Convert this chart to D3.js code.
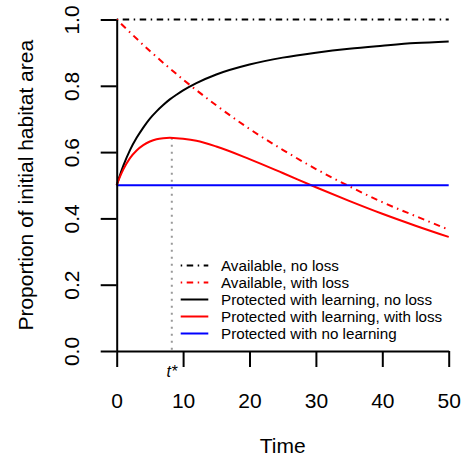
<!DOCTYPE html>
<html><head><meta charset="utf-8">
<script src="https://cdn.jsdelivr.net/npm/d3@7"></script>
<style>body{margin:0;background:#fff}svg{display:block;font-family:"Liberation Sans",Arial,sans-serif}</style>
</head><body><svg id="c" width="465" height="462"></svg>
<script>
// Data
const timeProtected = [0, 0.5, 1, 2, 3, 4, 5, 6, 7, 8, 9, 10, 12, 15, 20, 25, 30, 35, 40, 45, 50];
const protectedNoLoss = [0.5, 0.531, 0.559, 0.606, 0.643, 0.674, 0.701, 0.723, 0.742, 0.759, 0.773, 0.786, 0.808, 0.834, 0.864, 0.885, 0.900, 0.912, 0.921, 0.929, 0.934];
const protectedWithLoss = [0.5, 0.526, 0.548, 0.582, 0.605, 0.621, 0.632, 0.639, 0.642, 0.643, 0.642, 0.640, 0.634, 0.617, 0.579, 0.537, 0.494, 0.453, 0.414, 0.378, 0.344];
const timeAvail = [0, 5, 10, 15, 20, 25, 30, 35, 40, 45, 50];
const availableNoLoss = [1, 1, 1, 1, 1, 1, 1, 1, 1, 1, 1];
const availableWithLoss = [1, 0.905, 0.819, 0.741, 0.670, 0.607, 0.549, 0.497, 0.449, 0.407, 0.366];
const timeFlat = [0, 50];
const protectedNoLearning = [0.5, 0.5];
const tStar = 8.3;
const tStarValue = 0.643;
const xTicks = [0, 10, 20, 30, 40, 50];
const yTicks = [0, 0.2, 0.4, 0.6, 0.8, 1.0];
const legendLabels = ["Available, no loss", "Available, with loss", "Protected with learning, no loss", "Protected with learning, with loss", "Protected with no learning"];

const svg = d3.select("#c");
const x = d3.scaleLinear().domain([0, 50]).range([116.7, 448.7]);
const y = d3.scaleLinear().domain([0, 1]).range([351, 19.5]);
const dashDot = "1.5,4.5,6.5,4.5";

const series = [
  {t: timeAvail, v: availableNoLoss, color: "#000", dash: dashDot},
  {t: timeAvail, v: availableWithLoss, color: "#ff0000", dash: dashDot},
  {t: timeProtected, v: protectedNoLoss, color: "#000", dash: null},
  {t: timeProtected, v: protectedWithLoss, color: "#ff0000", dash: null},
  {t: timeFlat, v: protectedNoLearning, color: "#0000ff", dash: null}
];

// t* dotted line
svg.append("line").attr("x1", x(tStar)).attr("x2", x(tStar))
  .attr("y1", y(tStarValue)).attr("y2", y(0))
  .attr("stroke", "#999").attr("stroke-width", 2).attr("stroke-dasharray", "2,5");

const line = d3.line().curve(d3.curveMonotoneX);
series.forEach(s => {
  const pts = s.t.map((t, i) => [x(t), y(s.v[i])]);
  const p = svg.append("path").attr("d", line(pts)).attr("fill", "none")
    .attr("stroke", s.color).attr("stroke-width", 2);
  if (s.dash) p.attr("stroke-dasharray", s.dash);
});

// Axes
const xAxis = d3.axisBottom(x).tickValues(xTicks).tickSize(16).tickSizeOuter(0).tickPadding(0).tickFormat(d3.format("d"));
const gx = svg.append("g").attr("transform", `translate(0,${y(0)})`).call(xAxis);
gx.select(".domain").attr("stroke-width", 2);
gx.selectAll(".tick line").attr("stroke-width", 2);
gx.selectAll(".tick text").attr("font-size", 21).attr("font-family", "Liberation Sans, Arial, sans-serif")
  .attr("fill", "#000").attr("y", 57).attr("dy", 0);

const yAxis = d3.axisLeft(y).tickValues(yTicks).tickSize(16).tickSizeOuter(0).tickFormat(d3.format(".1f"));
const gy = svg.append("g").attr("transform", `translate(${x(0)},0)`).call(yAxis);
gy.select(".domain").attr("stroke-width", 2);
gy.selectAll(".tick line").attr("stroke-width", 2);
gy.selectAll(".tick text").attr("font-size", 21).attr("font-family", "Liberation Sans, Arial, sans-serif")
  .attr("fill", "#000").attr("x", null).attr("dy", null)
  .attr("text-anchor", "middle")
  .attr("transform", "translate(-38,0) rotate(-90)");

// Axis titles
svg.append("text").attr("x", (x(0) + x(50)) / 2).attr("y", 453.3).attr("text-anchor", "middle")
  .attr("font-size", 21).text("Time");
svg.append("text").attr("transform", `translate(33,${(y(0) + y(1)) / 2}) rotate(-90)`)
  .attr("text-anchor", "middle").attr("font-size", 21).text("Proportion of initial habitat area");

// t* label
svg.append("text").attr("x", x(tStar)).attr("y", 377).attr("text-anchor", "middle")
  .attr("font-size", 16).attr("font-style", "italic").text("t*");

// Legend
const lg = svg.append("g");
legendLabels.forEach((lab, i) => {
  const yy = 265.5 + i * 17;
  const l = lg.append("line").attr("x1", 180.7).attr("x2", 208.3).attr("y1", yy).attr("y2", yy)
    .attr("stroke", series[i].color).attr("stroke-width", 2);
  if (series[i].dash) l.attr("stroke-dasharray", series[i].dash);
  lg.append("text").attr("x", 221).attr("y", yy).attr("dy", "0.35em").attr("font-size", 15.2).text(lab);
});
</script></body></html>
